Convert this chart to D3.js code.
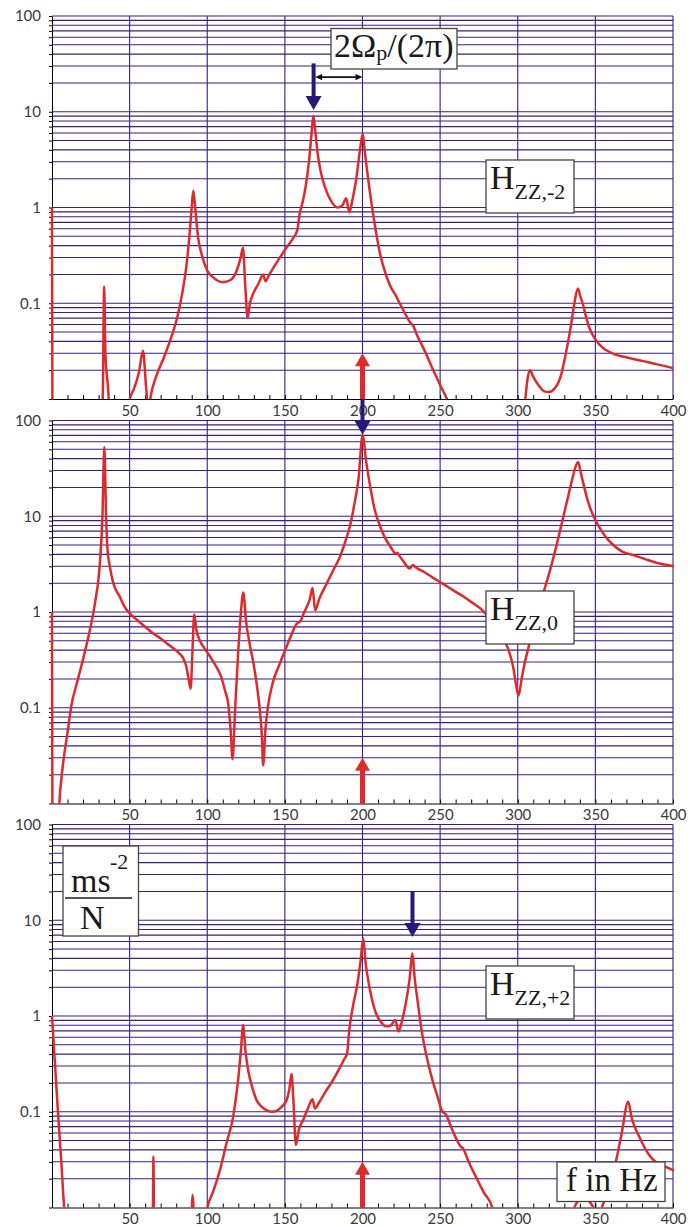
<!DOCTYPE html>
<html>
<head>
<meta charset="utf-8">
<script src="https://cdn.jsdelivr.net/npm/d3@7/dist/d3.min.js"></script>
<style>
    body { margin: 0; background: #fff; }
    .axis .tick text { font-family: Lato, "Noto Sans", sans-serif; font-size: 15px; fill: #3a3a3a; }
    .axis path, .axis line { stroke: #000; }
    .box text { font-family: "Liberation Serif", "DejaVu Serif", serif; fill: #1a1a1a; }
</style>
</head>
<body>
<svg id="fig" width="696" height="1227"></svg>
<script>
// tick labels
const xLabels = [50, 100, 150, 200, 250, 300, 350, 400];
const yLabels = [0.1, 1, 10, 100];

// H_ZZ,-2 : [f in Hz, |H|]
const hzzMinus2 = [
    [0, 1], [0.4, 0.004], [32, 0.004], [32.7, 0.01], [33.6, 0.15], [34.4, 0.03], [36.5, 0.01], [37, 0.006],
    [49, 0.006], [50, 0.0098], [53, 0.013], [56, 0.019], [58.6, 0.032], [60.5, 0.014], [61.5, 0.009],
    [62.5, 0.008], [63.5, 0.0105], [67, 0.017], [72, 0.027], [77, 0.045], [81, 0.075], [84, 0.13],
    [86.5, 0.24], [88.5, 0.5], [90, 1.0], [91, 1.5], [92, 1.1], [94, 0.5], [97, 0.3], [100, 0.22],
    [104, 0.185], [110, 0.166], [115, 0.175], [119, 0.22], [121.5, 0.3], [123, 0.38], [124.5, 0.15],
    [126, 0.07], [127.5, 0.1], [130, 0.13], [133, 0.16], [136, 0.2], [137.5, 0.17], [140, 0.2],
    [145, 0.27], [150, 0.36], [155, 0.47], [158, 0.58], [159.5, 0.85], [161.5, 1.15], [163.5, 1.7],
    [165.5, 3.0], [167, 5.5], [168.3, 9.1], [169.5, 6.5], [171, 3.8], [173, 2.4], [176, 1.6],
    [180, 1.15], [184, 1.0], [187, 1.05], [189.5, 1.25], [191.5, 0.89], [193.5, 1.2], [195.8, 1.9],
    [198.3, 3.9], [200.2, 5.9], [201.5, 3.8], [203, 2.4], [204.4, 1.6], [206, 1.05], [208, 0.65],
    [210.8, 0.36], [215, 0.2], [218, 0.15], [221.5, 0.12], [224, 0.1], [228, 0.075], [231, 0.062],
    [232.5, 0.059], [235, 0.047], [240, 0.032], [245, 0.021], [250, 0.014], [255, 0.0095], [258, 0.007],
    [304, 0.007], [305, 0.0105], [306.5, 0.017], [308, 0.02], [310, 0.017], [314, 0.0135], [317, 0.012],
    [320, 0.0118], [324, 0.013], [328, 0.018], [331, 0.03], [334, 0.055], [336.5, 0.1], [338.7, 0.143],
    [340.5, 0.115], [341.8, 0.1], [344, 0.072], [346, 0.056], [350, 0.042], [355, 0.034], [361, 0.03],
    [371, 0.027], [380, 0.025], [390, 0.023], [400, 0.021]
];

// H_ZZ,0
const hzz0 = [
    [0, 1], [0.4, 0.004], [4, 0.006], [4.7, 0.01], [7, 0.025], [10, 0.055], [12.7, 0.11], [16, 0.18],
    [20, 0.32], [23.4, 0.55], [26.5, 0.95], [28.5, 1.5], [29.8, 2.1], [31, 3.5], [32.5, 10], [33.7, 53],
    [34.8, 10.7], [35.6, 4.8], [37.3, 2.96], [39.5, 2.0], [43.8, 1.43], [46.5, 1.15], [50.2, 0.96],
    [55, 0.82], [60, 0.7], [65, 0.6], [70, 0.53], [74, 0.47], [78, 0.42], [82, 0.37], [84.5, 0.33],
    [86.5, 0.27], [88, 0.2], [89.3, 0.158], [90.5, 0.4], [91.6, 0.94], [93, 0.65], [95.3, 0.5], [99, 0.4],
    [103, 0.32], [106, 0.265], [109, 0.21], [111.5, 0.15], [113.5, 0.11], [115, 0.06], [116.3, 0.029],
    [118, 0.1], [120, 0.4], [121.5, 0.9], [123.2, 1.6], [125, 0.8], [127.5, 0.45], [129.6, 0.3],
    [132, 0.17], [134, 0.09], [135.2, 0.05], [136, 0.025], [137.5, 0.06], [139, 0.1], [142.5, 0.19],
    [146, 0.27], [151, 0.43], [155, 0.62], [157.5, 0.75], [160, 0.8], [162.5, 1.0], [164, 1.12],
    [166, 1.35], [167.8, 1.78], [169.5, 1.04], [172, 1.35], [176.9, 1.98], [181, 2.7], [185.4, 3.75],
    [189, 5.5], [192, 8], [195, 14], [197.5, 25], [200, 70], [202.6, 35], [205.4, 18.6], [208, 11.5],
    [210.8, 8.3], [214, 6.2], [218, 4.8], [221.5, 4.06], [222.5, 4.15], [223.5, 3.9], [226, 3.45],
    [230.5, 2.85], [232.5, 3.1], [234, 2.95], [240, 2.6], [245, 2.3], [251.6, 1.98], [258, 1.7],
    [265, 1.45], [271, 1.24], [277.3, 1.04], [283, 0.8], [288, 0.6], [293.4, 0.43], [297, 0.27],
    [299, 0.17], [300.5, 0.134], [302.5, 0.2], [305, 0.32], [307, 0.43], [310, 0.7], [313, 1.05],
    [317, 1.68], [321, 2.8], [325, 5], [328.8, 9], [332, 15], [335, 24], [337, 32], [338.9, 36.8],
    [340.5, 29], [341.8, 23.7], [345, 14.7], [348.1, 10.6], [352.5, 7.7], [356, 6.3], [361, 5.1],
    [367, 4.3], [375, 3.9], [382.5, 3.55], [390, 3.25], [400.7, 3.0]
];

// H_ZZ,+2
const hzzPlus2 = [
    [0, 1], [2, 0.3], [4, 0.09], [6, 0.03], [7.9, 0.0098], [8.5, 0.008], [64.5, 0.008], [65, 0.0098],
    [65.3, 0.034], [65.7, 0.0098], [66.2, 0.008], [89.5, 0.008], [90, 0.0098], [90.6, 0.0135],
    [91.2, 0.0098], [91.8, 0.008], [99, 0.008], [100, 0.0098], [104, 0.015], [108, 0.024],
    [112.4, 0.047], [116.7, 0.089], [119.9, 0.215], [121.5, 0.4], [123.2, 0.81], [124.5, 0.45],
    [126.4, 0.27], [129, 0.18], [131.8, 0.132], [135, 0.113], [138, 0.104], [141.5, 0.1], [145, 0.103],
    [148, 0.113], [151.1, 0.132], [152.8, 0.17], [154.3, 0.248], [155.5, 0.13], [157.1, 0.045],
    [159, 0.065], [161.8, 0.082], [164.5, 0.105], [167.8, 0.135], [169.4, 0.108], [172, 0.125],
    [176, 0.16], [181.1, 0.215], [185, 0.28], [188.5, 0.36], [190, 0.4], [191.5, 0.72], [194, 1.3],
    [196.8, 2.2], [198.8, 3.8], [200.5, 6.5], [202, 3.6], [204.4, 2.03], [206.5, 1.4], [208.7, 1.07],
    [212, 0.86], [215.1, 0.78], [218, 0.79], [221.1, 0.91], [223.2, 0.69], [225.5, 0.9], [227.9, 1.36],
    [230.3, 2.4], [232.2, 4.5], [233.5, 2.6], [235.4, 1.47], [238, 0.72], [240.8, 0.41], [245, 0.215],
    [248, 0.15], [251.5, 0.1], [253.7, 0.094], [257, 0.07], [260, 0.054], [263.4, 0.043], [264.5, 0.042],
    [268, 0.031], [273, 0.021], [278, 0.0145], [283.8, 0.0098], [285, 0.008], [335, 0.008],
    [336.3, 0.0098], [340, 0.012], [344, 0.0125], [348, 0.0105], [350, 0.0095], [353, 0.0095],
    [356, 0.012], [360, 0.018], [363.2, 0.03], [367, 0.06], [371.1, 0.127], [373.5, 0.085],
    [378.2, 0.055], [382.5, 0.04], [386.8, 0.032], [395.4, 0.0266], [401.8, 0.024]
];

const series = [hzzMinus2, hzz0, hzzPlus2];
const subLabels = ["ZZ,-2", "ZZ,0", "ZZ,+2"];

// arrows: frequency, value at tail, value at tip (panel index)
const redArrows = [
    { panel: 0, f: 200, from: 0.01, to: 0.03 },
    { panel: 1, f: 200, from: 0.01, to: 0.03 },
    { panel: 2, f: 200, from: 0.01, to: 0.03 }
];
const navyArrows = [
    { fromPanel: 0, toPanel: 0, f: 168.5, from: 32, to: 10.4 },
    { fromPanel: 0, toPanel: 1, f: 200, from: 0.01, to: 71 },
    { fromPanel: 2, toPanel: 2, f: 232.2, from: 20, to: 6.7 }
];
const spanArrow = { panel: 0, f0: 169.5, f1: 200, v: 23 };

const left = 52, right = 673;
const panelTops = [16, 420.5, 824.5];
const panelH = 383;
const red = "#de2a2a", navy = "#251a78", gridColor = "#361f86";

const svg = d3.select("#fig");

const x = d3.scaleLinear().domain([0, 400]).range([left, right]);
const yScales = panelTops.map(t => d3.scaleLog().domain([0.01, 100]).range([t + panelH, t]));

// all horizontal grid values k*10^e
const gridVals = [];
for (let e = -2; e <= 1; e++) {
    for (let k = 1; k <= 9; k++) gridVals.push(+(k * Math.pow(10, e)).toPrecision(3));
}
gridVals.push(100);

function drawPanel(i) {
    const y = yScales[i];
    const top = panelTops[i];
    const g = svg.append("g").attr("class", "panel");

    // grid
    g.append("g").selectAll("line")
        .data(gridVals.filter(d => d > 0.01))
        .join("line")
        .attr("x1", left).attr("x2", right)
        .attr("y1", d => y(d)).attr("y2", d => y(d))
        .attr("stroke", gridColor).attr("stroke-width", 1.1);

    g.append("g").selectAll("line")
        .data(xLabels)
        .join("line")
        .attr("x1", d => x(d)).attr("x2", d => x(d))
        .attr("y1", top).attr("y2", top + panelH)
        .attr("stroke", gridColor).attr("stroke-width", 1.1);

    // axes
    const y_axis = d3.axisLeft(y)
        .tickValues(gridVals)
        .tickSizeInner(3).tickSizeOuter(0).tickPadding(8)
        .tickFormat(d => yLabels.includes(d) ? String(d) : "");
    g.append("g").attr("class", "axis")
        .attr("transform", `translate(${left},0)`)
        .call(y_axis);

    const x_axis = d3.axisBottom(x)
        .tickValues(d3.range(10, 401, 10))
        .tickSizeInner(-4).tickSizeOuter(0).tickPadding(6)
        .tickFormat(d => xLabels.includes(d) ? String(d) : "");
    g.append("g").attr("class", "axis")
        .attr("transform", `translate(0,${top + panelH})`)
        .call(x_axis);

    // curve
    g.append("clipPath").attr("id", `clip${i}`)
        .append("rect")
        .attr("x", left - 2).attr("y", top)
        .attr("width", right - left + 3).attr("height", panelH);

    const line = d3.line()
        .x(d => x(d[0]))
        .y(d => y(d[1]))
        .curve(d3.curveMonotoneX);

    g.append("path")
        .datum(series[i])
        .attr("clip-path", `url(#clip${i})`)
        .attr("d", line)
        .attr("fill", "none")
        .attr("stroke", red)
        .attr("stroke-width", 2.5)
        .attr("stroke-linejoin", "round");
}

panelTops.forEach((t, i) => drawPanel(i));

// vertical block arrow from (px, y0) tail to (px, y1) tip
function arrow(px, y0, y1, w, headW, headL, color) {
    const dir = Math.sign(y1 - y0);
    const base = y1 - dir * headL;
    svg.append("line")
        .attr("x1", px).attr("x2", px)
        .attr("y1", y0).attr("y2", base + dir)
        .attr("stroke", color).attr("stroke-width", w);
    svg.append("path")
        .attr("d", `M${px - headW / 2},${base}L${px + headW / 2},${base}L${px},${y1}Z`)
        .attr("fill", color);
}

redArrows.forEach(a => {
    const y = yScales[a.panel];
    arrow(x(a.f), y(a.from), y(a.to), 5, 15, 13, red);
});

navyArrows.forEach(a => {
    arrow(x(a.f), yScales[a.fromPanel](a.from), yScales[a.toPanel](a.to), 4, 16, 14, navy);
});

// double-headed span arrow
{
    const y = yScales[spanArrow.panel](spanArrow.v);
    const x0 = x(spanArrow.f0), x1 = x(spanArrow.f1);
    svg.append("line")
        .attr("x1", x0 + 5).attr("x2", x1 - 5)
        .attr("y1", y).attr("y2", y)
        .attr("stroke", "#111").attr("stroke-width", 1.6);
    svg.append("path")
        .attr("d", `M${x0},${y}L${x0 + 7},${y - 3.2}L${x0 + 7},${y + 3.2}Z M${x1},${y}L${x1 - 7},${y - 3.2}L${x1 - 7},${y + 3.2}Z`)
        .attr("fill", "#111");
}

// text boxes
function box(bx, by, bw, bh) {
    const g = svg.append("g").attr("class", "box");
    g.append("rect")
        .attr("x", bx).attr("y", by).attr("width", bw).attr("height", bh)
        .attr("fill", "#fff").attr("stroke", "#444").attr("stroke-width", 1.3);
    return g;
}

// H labels
const hBoxTops = [160, 591, 966];
hBoxTops.forEach((by, i) => {
    const g = box(486, by, 88, 53);
    const t = g.append("text")
        .attr("x", 490).attr("y", by + 29)
        .style("font-size", "34px");
    t.append("tspan").text("H");
    t.append("tspan").attr("dy", 10).style("font-size", "22px").text(subLabels[i]);
});

// 2Ωp/(2π)
{
    const g = box(331, 28.5, 126, 40.5);
    const t = g.append("text")
        .attr("x", 334).attr("y", 57)
        .style("font-size", "34px");
    t.append("tspan").text("2Ω");
    t.append("tspan").attr("dy", 3).style("font-size", "22px").text("p");
    t.append("tspan").attr("dy", -3).text("/(2π)");
}

// unit box ms^-2 / N
{
    const bx = 63, by = 846;
    const g = box(bx, by, 75.5, 90);
    g.append("text").attr("x", bx + 8).attr("y", by + 46).style("font-size", "34px").text("ms");
    g.append("text").attr("x", bx + 47).attr("y", by + 22.5).style("font-size", "22px").text("-2");
    g.append("line")
        .attr("x1", bx + 2).attr("x2", bx + 69)
        .attr("y1", by + 52).attr("y2", by + 52)
        .attr("stroke", "#1a1a1a").attr("stroke-width", 1.5);
    g.append("text").attr("x", bx + 17).attr("y", by + 82.5).style("font-size", "34px").text("N");
}

// f in Hz
{
    const g = box(557, 1162, 108, 39.5);
    g.append("text").attr("x", 566).attr("y", 1191).style("font-size", "33px").text("f in Hz");
}
</script>
</body>
</html>
